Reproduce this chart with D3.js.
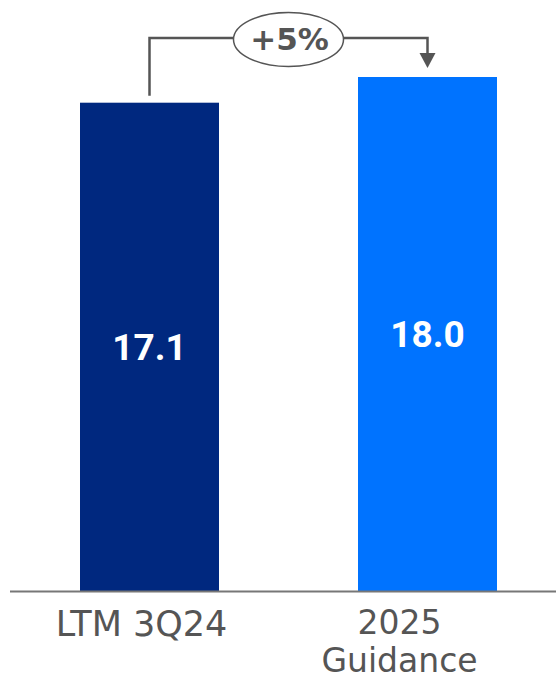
<!DOCTYPE html>
<html>
<head>
<meta charset="utf-8">
<script src="https://cdn.jsdelivr.net/npm/d3@7"></script>
<style>
  html, body { margin: 0; padding: 0; background: #fff; }
  svg { display: block; }
</style>
</head>
<body>
<div id="chart"></div>
<script>
// Period labels (each may wrap onto several lines)
const categories = ["LTM 3Q24", "2025 Guidance"];
const categoryLines = [["LTM 3Q24"], ["2025", "Guidance"]];
const values = [17.1, 18.0];
const valueLabels = ["17.1", "18.0"];
const barColors = ["#00287F", "#0073FF"];
const changeLabel = "+5%";

const W = 556, H = 681;
const baseY = 591;

const svg = d3.select("#chart").append("svg")
  .attr("width", W).attr("height", H);

const x = d3.scaleBand()
  .domain(categories)
  .range([10.5, 566.5])
  .paddingInner(0.5)
  .paddingOuter(0.25);

const y = d3.scaleLinear()
  .domain([0, 18])
  .range([baseY, 77]);

// Bars
svg.selectAll("rect.bar")
  .data(categories)
  .join("rect")
  .attr("class", "bar")
  .attr("x", d => x(d))
  .attr("width", x.bandwidth())
  .attr("y", (d, i) => y(values[i]))
  .attr("height", (d, i) => y(0) - y(values[i]))
  .attr("fill", (d, i) => barColors[i]);

// Value labels, centred inside each bar
svg.selectAll("text.val")
  .data(categories)
  .join("text")
  .attr("class", "val")
  .attr("x", d => x(d) + x.bandwidth() / 2)
  .attr("y", (d, i) => (y(values[i]) + y(0)) / 2)
  .attr("dy", "0.36em")
  .attr("text-anchor", "middle")
  .attr("fill", "#fff")
  .style("font-family", "Roboto, sans-serif")
  .style("font-weight", 700)
  .style("font-size", "37px")
  .text((d, i) => valueLabels[i]);

// Baseline axis
const xAxis = d3.axisBottom(x).tickSize(0).tickFormat("");
const gAxis = svg.append("g")
  .attr("transform", `translate(0,${baseY})`)
  .call(xAxis);
gAxis.select(".domain").remove();
gAxis.append("line")
  .attr("x1", 10).attr("x2", W)
  .attr("y1", 0.5).attr("y2", 0.5)
  .attr("stroke", "#777").attr("stroke-width", 2);

// Category labels below the axis
const labelStyle = [
  { size: 35, dx: -8, lineH: 38, top: 45 },
  { size: 33, dx: -28, lineH: 38, top: 43 }
];
categories.forEach((c, i) => {
  const st = labelStyle[i];
  const t = gAxis.append("text")
    .attr("text-anchor", "middle")
    .attr("fill", "#555")
    .style("font-family", "'DejaVu Sans', sans-serif")
    .style("font-size", st.size + "px");
  categoryLines[i].forEach((line, j) => {
    t.append("tspan")
      .attr("x", x(c) + x.bandwidth() / 2 + st.dx)
      .attr("y", st.top + j * st.lineH)
      .text(line);
  });
});

// Growth bracket from first bar to second bar
const cx0 = x(categories[0]) + x.bandwidth() / 2;
const cx1 = x(categories[1]) + x.bandwidth() / 2;
const bracketY = 38;
const ellCx = (cx0 + cx1) / 2, ellRx = 55, ellRy = 27;
const stroke = "#555";

svg.append("path")
  .attr("d", `M${cx0},${y(values[0]) - 7} V${bracketY} H${ellCx - ellRx}`)
  .attr("fill", "none").attr("stroke", stroke).attr("stroke-width", 2.5);
svg.append("path")
  .attr("d", `M${ellCx + ellRx},${bracketY} H${cx1} V${y(values[1]) - 22}`)
  .attr("fill", "none").attr("stroke", stroke).attr("stroke-width", 2.5);
// Arrow head
const tipY = y(values[1]) - 9;
svg.append("path")
  .attr("d", `M${cx1 - 8},${tipY - 15} L${cx1 + 8},${tipY - 15} L${cx1},${tipY} Z`)
  .attr("fill", stroke);

svg.append("ellipse")
  .attr("cx", ellCx).attr("cy", bracketY + 1.5)
  .attr("rx", ellRx).attr("ry", ellRy)
  .attr("fill", "#fff").attr("stroke", stroke).attr("stroke-width", 1.5);

svg.append("text")
  .attr("x", ellCx + 1)
  .attr("y", 50)
  .attr("text-anchor", "middle")
  .attr("fill", "#555")
  .style("font-family", "'DejaVu Sans', sans-serif")
  .style("font-weight", 700)
  .style("font-size", "31px")
  .text(changeLabel);
</script>
</body>
</html>
